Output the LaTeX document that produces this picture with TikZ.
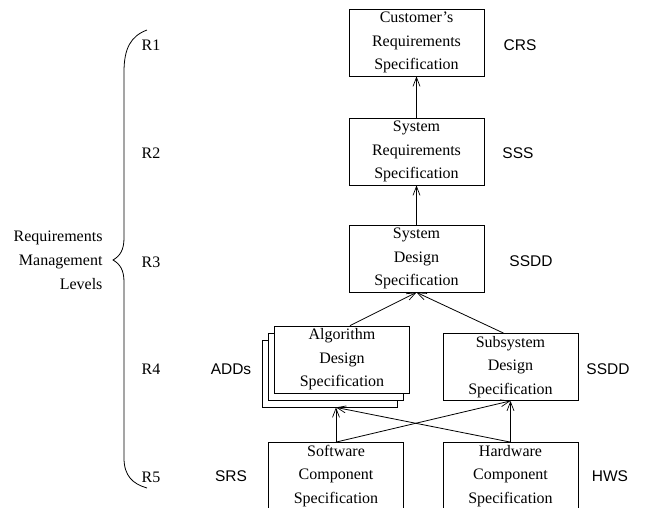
\documentclass[tikz,border=0pt]{standalone}
\usepackage{fontspec}
\setmainfont{Liberation Serif}
\setsansfont{Liberation Sans}
\usetikzlibrary{arrows.meta,calc}

\tikzset{
  spec/.style={draw, line width=0.8pt, minimum width=135pt, minimum height=67pt,
    align=center, inner sep=0pt, font=\fontsize{16}{23.5}\selectfont},
  shadowbox/.style={draw, line width=0.8pt, fill=white, minimum width=135pt, minimum height=67pt, inner sep=0pt},
  lvl/.style={font=\fontsize{16}{24}\selectfont},
  tag/.style={font=\sffamily\fontsize{15.5}{18}\selectfont},
  link/.style={line width=0.8pt, -{Straight Barb[length=9pt,width=7pt,line width=0.7pt]}}
}

\begin{document}
\begin{tikzpicture}[x=1pt,y=-1pt]
\useasboundingbox (0,0) rectangle (646,507);
\clip (0,0) rectangle (646,507);

% upper chain of specifications
\node[spec] (crs)  at (416.5,42.5)  {Customer's\\Requirements\\Specification};
\node[spec] (sss)  at (416.5,151.5) {System\\Requirements\\Specification};
\node[spec] (ssdd) at (416.5,258.5) {System\\Design\\Specification};

% stacked algorithm design documents
\node[shadowbox] (alg3) at (329.5,373.5) {};
\node[shadowbox] (alg2) at (335.5,367) {};
\node[spec, fill=white] (alg) at (342,359.5) {Algorithm\\Design\\Specification};
\node[spec] (sub) at (510.5,367) {Subsystem\\Design\\Specification};

% component specifications (run off the lower edge)
\node[spec] (sw) at (336,476) {Software\\Component\\Specification};
\node[spec] (hw) at (510.5,476) {Hardware\\Component\\Specification};

% traceability links
\draw[link] (sss) -- (crs);
\draw[link] (ssdd) -- (sss);
\draw[link] ([xshift=8pt]alg.north) -- (ssdd.south);
\draw[link] ([xshift=-7pt]sub.north) -- (ssdd.south);
\coordinate (algfoot) at (sw.north |- alg3.south);
\draw[link] (sw.north) -- (algfoot);
\draw[link] (hw.north) -- (algfoot);
\draw[link] (sw.north) -- (sub.south);
\draw[link] (hw.north) -- (sub.south);

% document abbreviations
\node[tag] (tcrs)  at (520,45)  {CRS};
\node[tag] (tsss)  at (518,153) {SSS};
\node[tag] (tssdd) at (531,261) {SSDD};
\node[tag] (tadd)  at (231,369) {ADDs};
\node[tag] (tsub)  at (608,369) {SSDD};
\node[tag] (tsrs)  at (231,476) {SRS};
\node[tag] (thws)  at (610,476) {HWS};

% level labels
\node[lvl] (r1) at (151,45)  {R1};
\node[lvl] (r2) at (151,153) {R2};
\node[lvl] (r3) at (151,262) {R3};
\node[lvl] (r4) at (151,369) {R4};
\node[lvl] (r5) at (151,477) {R5};

% curly brace grouping the levels
\draw[line width=0.8pt]
  (147,30) .. controls (131,36) and (124,48) .. (124,72)
  -- (124,238) .. controls (124,250) and (120,256) .. (113,260)
  .. controls (120,264) and (124,270) .. (124,282)
  -- (124,458) .. controls (124,476) and (133,484) .. (147,488);

\node[lvl, align=right, anchor=east] (rml) at (106,260)
  {Requirements\\Management\\Levels};
\end{tikzpicture}
\end{document}
